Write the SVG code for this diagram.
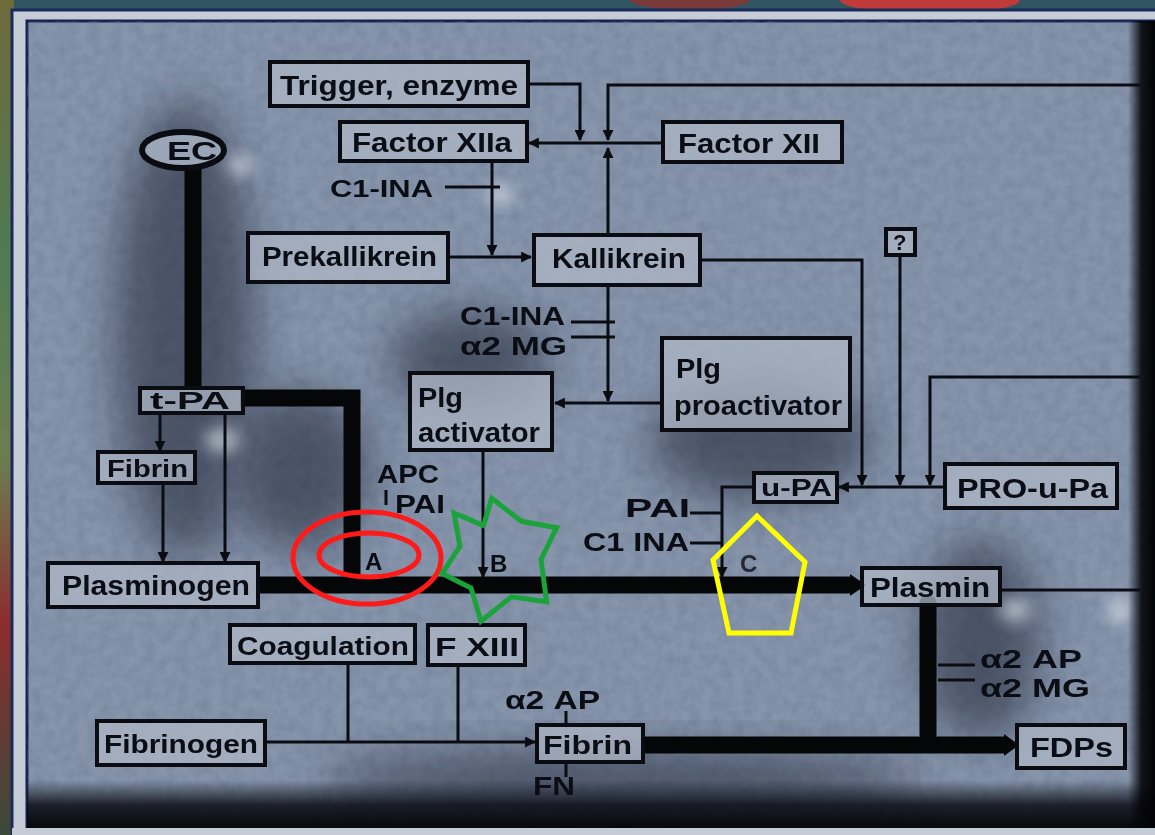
<svg xmlns="http://www.w3.org/2000/svg" width="1155" height="835" viewBox="0 0 1155 835">
<defs>
<style>
.box{fill:#aeb7c6;fill-opacity:0.75;stroke:#0a0c12;stroke-width:4}
.t{font-family:"Liberation Sans",Arial,sans-serif;font-weight:bold;fill:#0b0d14}
.c{fill:none;stroke:#0a0c12;stroke-width:3}
.k{fill:none;stroke:#050608;stroke-width:17}
.ov{fill:none;stroke-width:5}
</style>
<marker id="ar" viewBox="0 0 10 10" refX="9" refY="5" markerWidth="11" markerHeight="11" markerUnits="userSpaceOnUse" orient="auto">
<path d="M0,0 L10,5 L0,10 z" fill="#0a0c12"/>
</marker>
<filter id="tex" x="0" y="0" width="100%" height="100%">
<feTurbulence type="fractalNoise" baseFrequency="0.09" numOctaves="3" seed="4"/>
<feColorMatrix type="matrix" values="0 0 0 0 0.15  0 0 0 0 0.2  0 0 0 0 0.3  0 0 0 -1.6 1.1"/>
</filter>
<filter id="bl" x="-50%" y="-50%" width="200%" height="200%"><feGaussianBlur stdDeviation="22"/></filter>
<filter id="bl2" x="-50%" y="-50%" width="200%" height="200%"><feGaussianBlur stdDeviation="8"/></filter>
<linearGradient id="lside" x1="0" y1="0" x2="0" y2="1">
<stop offset="0" stop-color="#6f6a3c"/><stop offset="0.3" stop-color="#4f7a52"/><stop offset="0.55" stop-color="#6b7d50"/><stop offset="0.75" stop-color="#8c2c2c"/><stop offset="1" stop-color="#3a4a3a"/>
</linearGradient>
<linearGradient id="bot" x1="0" y1="0" x2="0" y2="1">
<stop offset="0" stop-color="#0a0c14" stop-opacity="0"/><stop offset="0.5" stop-color="#0a0c14" stop-opacity="0.85"/><stop offset="1" stop-color="#05060a"/>
</linearGradient>
<linearGradient id="rgt" x1="0" y1="0" x2="1" y2="0">
<stop offset="0" stop-color="#05060a" stop-opacity="0"/><stop offset="0.5" stop-color="#05060a" stop-opacity="0.9"/><stop offset="1" stop-color="#030305"/>
</linearGradient>
</defs>

<!-- backdrop -->
<rect x="0" y="0" width="1155" height="835" fill="#2f5560"/>
<rect x="0" y="0" width="14" height="835" fill="url(#lside)"/>
<ellipse cx="930" cy="0" rx="90" ry="14" fill="#c03a3a"/>
<ellipse cx="690" cy="0" rx="60" ry="10" fill="#7a3a3a"/>
<rect x="12" y="10" width="1150" height="830" fill="#c6ccd6" stroke="#1a2a5a" stroke-width="3"/>
<rect x="27" y="21" width="1135" height="812" fill="#8795ab" stroke="#142050" stroke-width="3"/>
<rect x="27" y="21" width="1135" height="812" filter="url(#tex)" opacity="0.55"/>

<!-- shading -->
<g opacity="0.55">
<ellipse cx="185" cy="330" rx="70" ry="230" fill="#1d2333" filter="url(#bl)"/>
<ellipse cx="300" cy="470" rx="70" ry="80" fill="#1d2333" filter="url(#bl)"/>
<ellipse cx="470" cy="360" rx="80" ry="50" fill="#1d2333" filter="url(#bl)"/>
<ellipse cx="760" cy="440" rx="110" ry="60" fill="#1d2333" filter="url(#bl)"/>
<ellipse cx="980" cy="640" rx="60" ry="100" fill="#1d2333" filter="url(#bl)"/>
<ellipse cx="620" cy="780" rx="300" ry="30" fill="#1d2333" filter="url(#bl)"/>
</g>
<g opacity="0.6">
<ellipse cx="240" cy="165" rx="14" ry="10" fill="#e8eef6" filter="url(#bl2)"/>
<ellipse cx="500" cy="195" rx="14" ry="10" fill="#e8eef6" filter="url(#bl2)"/>
<ellipse cx="222" cy="440" rx="18" ry="12" fill="#e8eef6" filter="url(#bl2)"/>
<ellipse cx="1015" cy="610" rx="16" ry="12" fill="#e8eef6" filter="url(#bl2)"/>
<ellipse cx="1120" cy="610" rx="12" ry="14" fill="#e8eef6" filter="url(#bl2)"/>
</g>
<rect x="27" y="780" width="1135" height="50" fill="url(#bot)"/>
<rect x="1128" y="21" width="27" height="812" fill="url(#rgt)"/>
<rect x="12" y="828" width="1143" height="7" fill="#c6ccd6"/>

<!-- connectors -->
<g id="connectors">
<path class="k" d="M193,166 V390"/>
<path class="k" d="M240,398 H352 V582"/>
<path class="k" d="M256,585 H852"/>
<polygon points="850,574 866,585 850,596" fill="#050608"/>
<path class="k" d="M928,603 V735" stroke-linecap="round"/>
<path class="k" d="M641,745 H1006"/>
<polygon points="1004,734 1019,745 1004,756" fill="#050608"/>
<path class="c" d="M528,84 H580 V140" marker-end="url(#ar)"/>
<path class="c" d="M1140,85 H608 V140" marker-end="url(#ar)"/>
<path class="c" d="M663,143 H529" marker-end="url(#ar)"/>
<path class="c" d="M608,235 V148" marker-end="url(#ar)"/>
<path class="c" d="M492,161 V255" marker-end="url(#ar)"/>
<path class="c" d="M445,187 H500"/>
<path class="c" d="M448,257 H531" marker-end="url(#ar)"/>
<path class="c" d="M700,260 H862 V485" marker-end="url(#ar)"/>
<path class="c" d="M900,255 V485" marker-end="url(#ar)"/>
<path class="c" d="M1140,377 H930 V485" marker-end="url(#ar)"/>
<path class="c" d="M945,487 H839" marker-end="url(#ar)"/>
<path class="c" d="M608,285 V401" marker-end="url(#ar)"/>
<path class="c" d="M571,322 H615 M571,337 H615"/>
<path class="c" d="M662,403 H555" marker-end="url(#ar)"/>
<path class="c" d="M483,450 V577" marker-end="url(#ar)"/>
<path class="c" d="M753,487 H722 V577" marker-end="url(#ar)"/>
<path class="c" d="M690,513 H722 M690,543 H722"/>
<path class="c" d="M160,412 V451" marker-end="url(#ar)"/>
<path class="c" d="M225,412 V562" marker-end="url(#ar)"/>
<path class="c" d="M163,483 V562" marker-end="url(#ar)"/>
<path class="c" d="M386,490 V505"/>
<path class="c" d="M1000,590 H1140"/>
<path class="c" d="M938,665 H975 M938,680 H975"/>
<path class="c" d="M265,742 H535" marker-end="url(#ar)"/>
<path class="c" d="M348,663 V742 M458,665 V742"/>
<path class="c" d="M566,711 V725 M566,762 V777"/>
</g>

<!-- nodes -->
<g id="n-trigger"><rect class="box" x="270" y="62" width="258" height="44"/><text class="t" x="280" y="95" font-size="27" textLength="238" lengthAdjust="spacingAndGlyphs">Trigger, enzyme</text></g>
<g id="n-f12a"><rect class="box" x="340" y="122" width="187" height="39"/><text class="t" x="352" y="152" font-size="27" textLength="160" lengthAdjust="spacingAndGlyphs">Factor XIIa</text></g>
<g id="n-f12"><rect class="box" x="663" y="122" width="179" height="40"/><text class="t" x="678" y="153" font-size="27" textLength="142" lengthAdjust="spacingAndGlyphs">Factor XII</text></g>
<g id="n-ec"><ellipse cx="183" cy="150" rx="41" ry="18" fill="#9aa6b8" stroke="#0a0c12" stroke-width="6"/><text class="t" x="167" y="160" font-size="25" textLength="50" lengthAdjust="spacingAndGlyphs">EC</text></g>
<g id="n-c1ina1"><text class="t" x="330" y="197" font-size="24" textLength="103" lengthAdjust="spacingAndGlyphs">C1-INA</text></g>
<g id="n-prekal"><rect class="box" x="248" y="233" width="200" height="49"/><text class="t" x="262" y="266" font-size="27" textLength="175" lengthAdjust="spacingAndGlyphs">Prekallikrein</text></g>
<g id="n-kal"><rect class="box" x="534" y="235" width="166" height="50"/><text class="t" x="552" y="268" font-size="27" textLength="134" lengthAdjust="spacingAndGlyphs">Kallikrein</text></g>
<g id="n-q"><rect class="box" x="886" y="229" width="29" height="26"/><text class="t" x="893" y="250" font-size="22">?</text></g>
<g id="n-inh2"><text class="t" x="460" y="325" font-size="26" textLength="105" lengthAdjust="spacingAndGlyphs">C1-INA</text><text class="t" x="460" y="355" font-size="26" textLength="107" lengthAdjust="spacingAndGlyphs">α2 MG</text></g>
<g id="n-proact"><rect class="box" x="662" y="338" width="188" height="92"/><text class="t" x="676" y="378" font-size="27" textLength="45" lengthAdjust="spacingAndGlyphs">Plg</text><text class="t" x="674" y="415" font-size="27" textLength="168" lengthAdjust="spacingAndGlyphs">proactivator</text></g>
<g id="n-act"><rect class="box" x="410" y="373" width="142" height="77"/><text class="t" x="418" y="407" font-size="27" textLength="45" lengthAdjust="spacingAndGlyphs">Plg</text><text class="t" x="418" y="442" font-size="27" textLength="122" lengthAdjust="spacingAndGlyphs">activator</text></g>
<g id="n-tpa"><rect class="box" x="140" y="388" width="103" height="25"/><text class="t" x="150" y="409" font-size="23" textLength="80" lengthAdjust="spacingAndGlyphs">t-PA</text></g>
<g id="n-fibrin1"><rect class="box" x="98" y="452" width="97" height="31"/><text class="t" x="107" y="477" font-size="23" textLength="81" lengthAdjust="spacingAndGlyphs">Fibrin</text></g>
<g id="n-apc"><text class="t" x="377" y="483" font-size="25" textLength="62" lengthAdjust="spacingAndGlyphs">APC</text><text class="t" x="395" y="513" font-size="25" textLength="50" lengthAdjust="spacingAndGlyphs">PAI</text></g>
<g id="n-a"><text class="t" x="365" y="570" font-size="24">A</text></g>
<g id="n-b"><text class="t" x="490" y="572" font-size="24">B</text></g>
<g id="n-c"><text class="t" x="740" y="572" font-size="24" fill-opacity="0.8">C</text></g>
<g id="n-inh3"><text class="t" x="625" y="517" font-size="25" textLength="65" lengthAdjust="spacingAndGlyphs">PAI</text><text class="t" x="583" y="551" font-size="25" textLength="106" lengthAdjust="spacingAndGlyphs">C1 INA</text></g>
<g id="n-upa"><rect class="box" x="754" y="473" width="83" height="29"/><text class="t" x="761" y="496" font-size="23" textLength="71" lengthAdjust="spacingAndGlyphs">u-PA</text></g>
<g id="n-proupa"><rect class="box" x="945" y="464" width="172" height="44"/><text class="t" x="957" y="498" font-size="27" textLength="151" lengthAdjust="spacingAndGlyphs">PRO-u-Pa</text></g>
<g id="n-plg"><rect class="box" x="48" y="563" width="210" height="44"/><text class="t" x="62" y="595" font-size="27" textLength="188" lengthAdjust="spacingAndGlyphs">Plasminogen</text></g>
<g id="n-plasmin"><rect class="box" x="862" y="568" width="138" height="37"/><text class="t" x="870" y="597" font-size="27" textLength="120" lengthAdjust="spacingAndGlyphs">Plasmin</text></g>
<g id="n-coag"><rect class="box" x="230" y="625" width="185" height="38"/><text class="t" x="237" y="655" font-size="26" textLength="172" lengthAdjust="spacingAndGlyphs">Coagulation</text></g>
<g id="n-f13"><rect class="box" x="428" y="625" width="97" height="40"/><text class="t" x="435" y="656" font-size="26" textLength="84" lengthAdjust="spacingAndGlyphs">F XIII</text></g>
<g id="n-inh4"><text class="t" x="980" y="668" font-size="25" textLength="102" lengthAdjust="spacingAndGlyphs">α2 AP</text><text class="t" x="980" y="697" font-size="25" textLength="110" lengthAdjust="spacingAndGlyphs">α2 MG</text></g>
<g id="n-a2ap"><text class="t" x="505" y="709" font-size="25" textLength="95" lengthAdjust="spacingAndGlyphs">α2 AP</text></g>
<g id="n-fibrinogen"><rect class="box" x="97" y="721" width="168" height="44"/><text class="t" x="104" y="753" font-size="26" textLength="154" lengthAdjust="spacingAndGlyphs">Fibrinogen</text></g>
<g id="n-fibrin2"><rect class="box" x="537" y="725" width="106" height="37"/><text class="t" x="543" y="754" font-size="26" textLength="89" lengthAdjust="spacingAndGlyphs">Fibrin</text></g>
<g id="n-fn"><text class="t" x="533" y="795" font-size="25" textLength="42" lengthAdjust="spacingAndGlyphs">FN</text></g>
<g id="n-fdps"><rect class="box" x="1017" y="725" width="108" height="43"/><text class="t" x="1030" y="757" font-size="27" textLength="83" lengthAdjust="spacingAndGlyphs">FDPs</text></g>

<!-- highlight overlays -->
<g id="overlays">
<ellipse class="ov" cx="367" cy="558" rx="74" ry="46" stroke="#ff1a1a"/>
<ellipse class="ov" cx="369" cy="555" rx="50" ry="22" stroke="#ff1a1a"/>
<polygon class="ov" stroke="#1aa33a" stroke-width="4" points="491.7,498.3 521.6,521.3 556.6,527.7 541.0,559.4 546.6,601.7 511.4,596.8 481.0,621.2 471.0,587.9 442.0,573.5 459.9,546.4 454.1,513.0 483.5,525.5"/>
<polygon class="ov" stroke="#ffff00" stroke-width="6" points="757,516 805,562 791,633 729,633 713,560"/>
</g>
</svg>
